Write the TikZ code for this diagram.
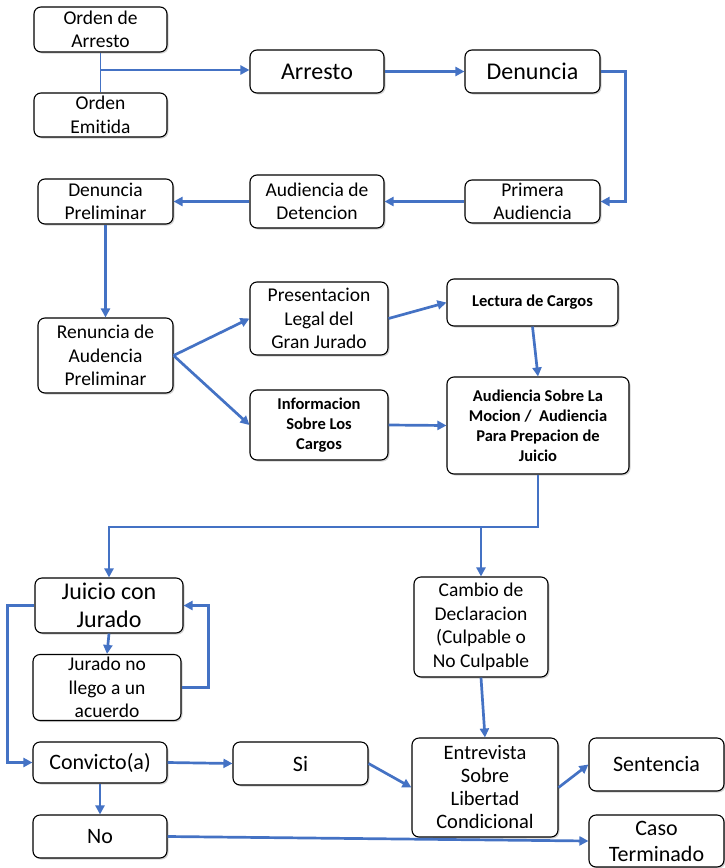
\documentclass[tikz,border=0pt]{standalone}
\usepackage{fontspec}
\setmainfont{Carlito}[Ligatures=NoCommon]
\usepackage{xcolor}
\usepackage{tikz}
\usetikzlibrary{arrows.meta, shadows}
\definecolor{flowblue}{RGB}{68,114,196}

\begin{document}
\begin{tikzpicture}[x=1pt, y=-1pt,
    box/.style={draw=black, line width=1.1pt, rounded corners=7pt, fill=white,
      align=center, inner sep=0pt,
      font=\fontsize{19.5}{23.5}\selectfont,
      drop shadow={shadow xshift=1.5pt, shadow yshift=-1.5pt, opacity=0.35}},
    wh/.style 2 args={minimum width=#1pt, minimum height=#2pt},
    midtext/.style={font=\fontsize{20.5}{23}\selectfont},
    bigtext/.style={font=\fontsize{22}{26}\selectfont},
    hugetext/.style={font=\fontsize{24}{28}\selectfont},
    boldtext/.style={font=\fontsize{16.5}{20}\selectfont\bfseries},
    arr/.style={draw=flowblue, line width=2.7pt,
      -{Triangle[length=9pt, width=9pt]}},
    link/.style={draw=flowblue, line width=1.2pt}]
  \useasboundingbox (0,0) rectangle (725,868);

  \node[box, wh={133}{45}] (ordenA) at (100.5,29.5) {Orden de\\Arresto};
  \node[box, wh={133}{44}] (ordenE) at (100.5,115) {Orden\\Emitida};
  \node[box, wh={134}{43}, hugetext] (arresto) at (317,71.5) {Arresto};
  \node[box, wh={135}{43}, hugetext] (denuncia) at (532.5,71.5) {Denuncia};
  \node[box, wh={135}{43}] (primera) at (532.5,201.5) {Primera\\Audiencia};
  \node[box, wh={134}{53}] (detencion) at (317,201.5) {Audiencia de\\Detencion};
  \node[box, wh={135}{45}] (denPre) at (105.5,201.5) {Denuncia\\Preliminar};
  \node[box, wh={135}{75}] (renuncia) at (105.5,355.5) {Renuncia de\\Audencia\\Preliminar};
  \node[box, wh={138}{73}] (presentacion) at (319,318.5) {Presentacion\\Legal del\\Gran Jurado};
  \node[box, wh={138}{70}, boldtext] (informacion) at (319,425) {Informacion\\Sobre Los\\Cargos};
  \node[box, wh={171}{47}, boldtext] (lectura) at (532.5,302.5) {Lectura de Cargos};
  \node[box, wh={182}{97}, boldtext] (mocion) at (538,425.5) {Audiencia Sobre La\\Mocion /\ \ Audiencia\\Para Prepacion de\\Juicio};
  \node[box, wh={148}{55}, hugetext] (juicio) at (109,605.5) {Juicio con\\Jurado};
  \node[box, wh={148}{66}] (jurado) at (107,687.5) {Jurado no\\llego a un\\acuerdo};
  \node[box, wh={134}{100}] (cambio) at (481,627) {Cambio de\\Declaracion\\(Culpable o\\No Culpable};
  \node[box, wh={134}{41}, bigtext] (convicto) at (100,762.5) {Convicto(a)};
  \node[box, wh={135}{43}, bigtext] (si) at (300.5,763.5) {Si};
  \node[box, wh={134}{43}, bigtext] (no) at (100,836.5) {No};
  \node[box, wh={146}{99}, midtext] (entrevista) at (485,787.5) {Entrevista\\Sobre\\Libertad\\Condicional};
  \node[box, wh={135}{53}, bigtext] (sentencia) at (656.5,764.5) {Sentencia};
  \node[box, wh={135}{52}, bigtext] (caso) at (656.5,841) {Caso\\Terminado};

  \coordinate (split) at (538,527);

  \draw[link] (ordenA.south) -- (ordenE.north);
  \draw[arr] (ordenA.south |- 0,70) -- (arresto.west |- 0,70);
  \draw[arr] (arresto.east) -- (denuncia.west);
  \draw[arr] (denuncia.east) -- ++(25,0) |- (primera.east);
  \draw[arr] (primera.west) -- (detencion.east);
  \draw[arr] (detencion.west) -- (denPre.east);
  \draw[arr] (denPre.south) -- (renuncia.north);
  \draw[arr] (renuncia.east) -- (presentacion.west);
  \draw[arr] (renuncia.east) -- (informacion.west);
  \draw[arr] (presentacion.east) -- (lectura.west);
  \draw[arr] (lectura.south) -- (mocion.north);
  \draw[arr] (informacion.east) -- (mocion.west);
  \draw[arr] (mocion.south) -- (split) -| (juicio.north);
  \draw[arr] (cambio.north |- split) -- (cambio.north);
  \draw[arr] (juicio.south) -- (jurado.north);
  \draw[arr] (jurado.east) -- ++(27,0) |- (juicio.east);
  \draw[arr] (juicio.west) -- ++(-27,0) |- (convicto.west);
  \draw[arr] (convicto.east) -- (si.west);
  \draw[arr] (convicto.south) -- (no.north);
  \draw[arr] (si.east) -- (entrevista.west);
  \draw[arr] (cambio.south) -- (entrevista.north);
  \draw[arr] (entrevista.east) -- (sentencia.west);
  \draw[arr] (no.east) -- (caso.west);
\end{tikzpicture}
\end{document}
